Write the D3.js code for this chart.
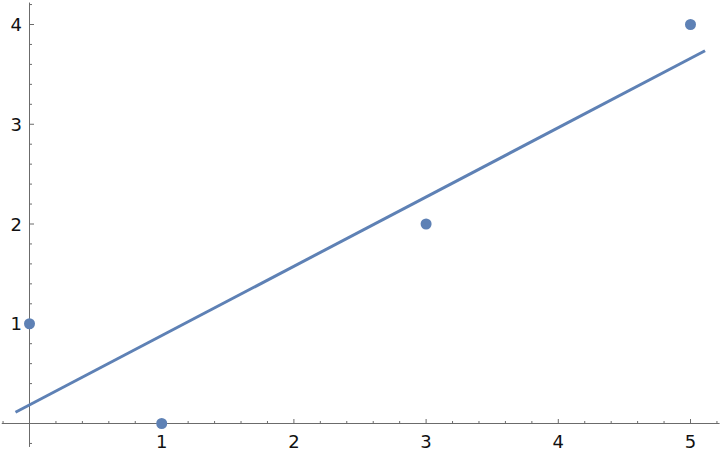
<!DOCTYPE html>
<html>
<head>
<meta charset="utf-8">
<script src="https://cdn.jsdelivr.net/npm/d3@7"></script>
<style>
  body { margin: 0; background: #fff; }
  text { font-family: "DejaVu Sans", sans-serif; }
</style>
</head>
<body>
<svg class="chart"></svg>
<script>
// data points
var pointX = [0, 1, 3, 5];
var pointY = [1, 0, 2, 4];

// fitted line, ends
var lineX = [-0.106, 5.11];
var lineY = [0.113, 3.737];

var xTicks = [1, 2, 3, 4, 5];
var yTicks = [1, 2, 3, 4];

var width = 720, height = 454;
var blue = '#5e81b5';

var x = d3.scaleLinear()
    .domain([0, 5])
    .range([29.5, 690.5]);

var y = d3.scaleLinear()
    .domain([0, 4])
    .range([423.5, 24.5]);

var chart = d3.select('.chart')
    .attr('width', width)
    .attr('height', height);

var axisColor = '#6b6b6b';

// x axis
var xAxis = chart.append('g');
xAxis.append('line')
    .attr('x1', x(-0.21)).attr('x2', x(5.22))
    .attr('y1', y(0)).attr('y2', y(0))
    .attr('stroke', axisColor).attr('stroke-width', 1);

var xMinor = d3.range(-0.2, 5.21, 0.2).map(function(d) { return Math.round(d * 10) / 10; });
xAxis.selectAll('.xt')
    .data(xMinor)
    .enter().append('line')
    .attr('x1', function(d) { return x(d); })
    .attr('x2', function(d) { return x(d); })
    .attr('y1', y(0))
    .attr('y2', function(d) { return y(0) - (Number.isInteger(d) ? 4.5 : 2.5); })
    .attr('stroke', axisColor);

xAxis.selectAll('.xl')
    .data(xTicks)
    .enter().append('text')
    .attr('x', function(d) { return x(d); })
    .attr('y', 448)
    .attr('text-anchor', 'middle')
    .attr('font-size', 18)
    .attr('fill', '#111')
    .text(function(d) { return d; });

// y axis
var yAxis = chart.append('g');
yAxis.append('line')
    .attr('x1', x(0)).attr('x2', x(0))
    .attr('y1', y(-0.235)).attr('y2', y(4.22))
    .attr('stroke', axisColor).attr('stroke-width', 1);

var yMinor = d3.range(-0.2, 4.21, 0.2).map(function(d) { return Math.round(d * 10) / 10; });
yAxis.selectAll('.yt')
    .data(yMinor)
    .enter().append('line')
    .attr('y1', function(d) { return y(d); })
    .attr('y2', function(d) { return y(d); })
    .attr('x1', x(0))
    .attr('x2', function(d) { return x(0) + (Number.isInteger(d) ? 4.5 : 2.5); })
    .attr('stroke', axisColor);

yAxis.selectAll('.yl')
    .data(yTicks)
    .enter().append('text')
    .attr('x', 22)
    .attr('y', function(d) { return y(d) + 6.5; })
    .attr('text-anchor', 'end')
    .attr('font-size', 18)
    .attr('fill', '#111')
    .text(function(d) { return d; });

// fit line
var lineData = lineX.map(function(d, i) { return [d, lineY[i]]; });
chart.append('path')
    .datum(lineData)
    .attr('d', d3.line()
        .x(function(d) { return x(d[0]); })
        .y(function(d) { return y(d[1]); }))
    .attr('fill', 'none')
    .attr('stroke', blue)
    .attr('stroke-width', 3);

// points
chart.append('g').selectAll('circle')
    .data(pointX)
    .enter().append('circle')
    .attr('cx', function(d) { return x(d); })
    .attr('cy', function(d, i) { return y(pointY[i]); })
    .attr('r', 5.5)
    .attr('fill', blue);
</script>
</body>
</html>
